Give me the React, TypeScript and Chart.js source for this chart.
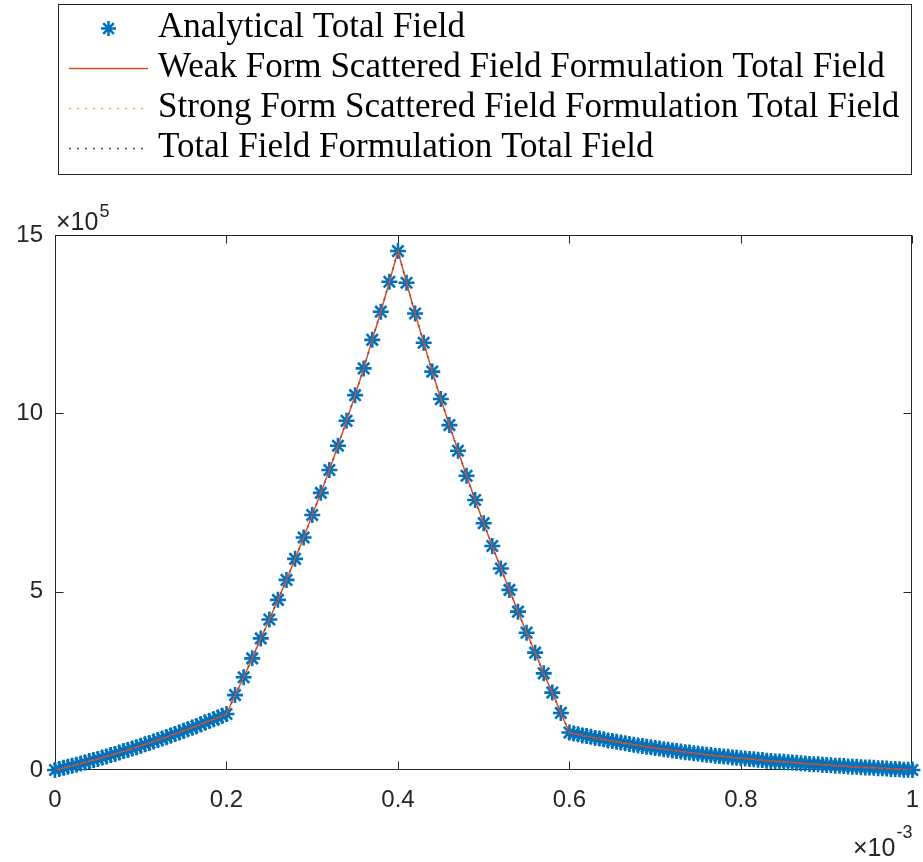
import React, { useEffect, useRef } from "react";
import { Chart, registerables } from "chart.js";

Chart.register(...registerables);

// x positions in units of 1e-3, field values in units of 1e5
const xLeft = [
  0, 0.005, 0.01, 0.015, 0.02, 0.025, 0.03, 0.035, 0.04, 0.045, 0.05, 0.055, 0.06, 0.065, 0.07, 0.075,
  0.08, 0.085, 0.09, 0.095, 0.1, 0.105, 0.11, 0.115, 0.12, 0.125, 0.13, 0.135, 0.14, 0.145, 0.15, 0.155,
  0.16, 0.165, 0.17, 0.175, 0.18, 0.185, 0.19, 0.195, 0.2,
];
const yLeft = [
  0, 0.03, 0.06, 0.09, 0.12, 0.15, 0.18, 0.21, 0.25, 0.28, 0.31, 0.35, 0.38, 0.42, 0.45, 0.49,
  0.53, 0.56, 0.6, 0.64, 0.68, 0.72, 0.76, 0.8, 0.84, 0.88, 0.92, 0.97, 1.01, 1.05, 1.1, 1.14,
  1.19, 1.23, 1.28, 1.33, 1.38, 1.42, 1.47, 1.52, 1.57,
];
const xMid = [
  0.21, 0.22, 0.23, 0.24, 0.25, 0.26, 0.27, 0.28, 0.29, 0.3, 0.31, 0.32, 0.33, 0.34, 0.35, 0.36, 0.37,
  0.38, 0.39, 0.4, 0.41, 0.42, 0.43, 0.44, 0.45, 0.46, 0.47, 0.48, 0.49, 0.5, 0.51, 0.52, 0.53, 0.54,
  0.55, 0.56, 0.57, 0.58, 0.59, 0.6,
];
const yMid = [
  2.1, 2.6, 3.13, 3.69, 4.22, 4.77, 5.33, 5.92, 6.52, 7.15, 7.77, 8.41, 9.09, 9.79, 10.51, 11.26, 12.06,
  12.85, 13.69, 14.55, 13.66, 12.8, 11.98, 11.17, 10.4, 9.67, 8.95, 8.25, 7.57, 6.92, 6.28, 5.65, 5.05,
  4.44, 3.85, 3.29, 2.71, 2.17, 1.6, 1.05,
];
const xRight = [
  0.605, 0.61, 0.615, 0.62, 0.625, 0.63, 0.635, 0.64, 0.645, 0.65, 0.655, 0.66, 0.665, 0.67, 0.675, 0.68,
  0.685, 0.69, 0.695, 0.7, 0.705, 0.71, 0.715, 0.72, 0.725, 0.73, 0.735, 0.74, 0.745, 0.75, 0.755, 0.76,
  0.765, 0.77, 0.775, 0.78, 0.785, 0.79, 0.795, 0.8, 0.805, 0.81, 0.815, 0.82, 0.825, 0.83, 0.835, 0.84,
  0.845, 0.85, 0.855, 0.86, 0.865, 0.87, 0.875, 0.88, 0.885, 0.89, 0.895, 0.9, 0.905, 0.91, 0.915, 0.92,
  0.925, 0.93, 0.935, 0.94, 0.945, 0.95, 0.955, 0.96, 0.965, 0.97, 0.975, 0.98, 0.985, 0.99, 0.995, 1,
];
const yRight = [
  1.02, 1.0, 0.97, 0.95, 0.93, 0.9, 0.88, 0.86, 0.83, 0.81,
  0.79, 0.77, 0.75, 0.73, 0.71, 0.69, 0.67, 0.65, 0.64, 0.62,
  0.6, 0.58, 0.57, 0.55, 0.53, 0.52, 0.5, 0.49, 0.47, 0.46,
  0.44, 0.43, 0.42, 0.4, 0.39, 0.38, 0.37, 0.35, 0.34, 0.33,
  0.32, 0.31, 0.3, 0.29, 0.28, 0.26, 0.25, 0.24, 0.24, 0.23,
  0.22, 0.21, 0.2, 0.19, 0.18, 0.17, 0.16, 0.16, 0.15, 0.14,
  0.13, 0.12, 0.12, 0.11, 0.1, 0.09, 0.09, 0.08, 0.07, 0.07,
  0.06, 0.05, 0.05, 0.04, 0.03, 0.03, 0.02, 0.01, 0.01, 0,
];

const xGrid = [...xLeft, ...xMid, ...xRight];
const analyticalTotal = [...yLeft, ...yMid, ...yRight];
// numerical solutions coincide with the analytical one at plot resolution
const weakFormTotal = analyticalTotal;
const strongFormTotal = analyticalTotal;
const totalFieldTotal = analyticalTotal;

const xTicks = [0, 0.2, 0.4, 0.6, 0.8, 1];
const yTicks = [0, 5, 10, 15];
const xExponent = "-3";
const yExponent = "5";

const seriesLabels = [
  "Analytical Total Field",
  "Weak Form Scattered Field Formulation Total Field",
  "Strong Form Scattered Field Formulation Total Field",
  "Total Field Formulation Total Field",
];

const BLUE = "#0072BD";
const ORANGE = "#D95319";
const YELLOW = "#EDB120";
const PURPLE = "#7E2F8E";
const AXIS = "#262626";
const TICK_FONT = '"Liberation Sans", Arial, Helvetica, sans-serif';
const LEGEND_FONT = '"Liberation Serif", "DejaVu Serif", serif';
const DOTS = [2, 6];

function pts(ys: number[]) {
  return xGrid.map((x, i) => ({ x, y: ys[i] }));
}

function drawStar(ctx: CanvasRenderingContext2D, cx: number, cy: number, r: number) {
  ctx.beginPath();
  for (let k = 0; k < 4; k++) {
    const a = (k * Math.PI) / 4;
    ctx.moveTo(cx - Math.cos(a) * r, cy - Math.sin(a) * r);
    ctx.lineTo(cx + Math.cos(a) * r, cy + Math.sin(a) * r);
  }
  ctx.stroke();
}

const decorPlugin = {
  id: "matlabDecor",
  beforeDatasetsDraw(chart: any) {
    const { ctx, chartArea } = chart;
    const xs = chart.scales.x;
    const ys = chart.scales.y;
    const L = Math.round(chartArea.left) + 0.5;
    const R = Math.round(chartArea.right) - 0.5;
    const T = Math.round(chartArea.top) + 0.5;
    const B = Math.round(chartArea.bottom) - 0.5;
    const tl = 8;
    ctx.save();
    ctx.strokeStyle = AXIS;
    ctx.lineWidth = 1;
    ctx.strokeRect(L, T, R - L, B - T);
    ctx.beginPath();
    xTicks.forEach((v) => {
      const px = Math.round(xs.getPixelForValue(v)) + 0.5;
      ctx.moveTo(px, B);
      ctx.lineTo(px, B - tl);
      ctx.moveTo(px, T);
      ctx.lineTo(px, T + tl);
    });
    yTicks.forEach((v) => {
      const py = Math.round(ys.getPixelForValue(v)) + 0.5;
      ctx.moveTo(L, py);
      ctx.lineTo(L + tl, py);
      ctx.moveTo(R, py);
      ctx.lineTo(R - tl, py);
    });
    ctx.stroke();
    ctx.restore();
  },
  afterDraw(chart: any) {
    const { ctx, chartArea } = chart;
    ctx.save();
    // exponent labels
    ctx.fillStyle = AXIS;
    ctx.textBaseline = "alphabetic";
    ctx.textAlign = "left";
    ctx.font = `25px ${TICK_FONT}`;
    const base = "\u00d710";
    const bw = ctx.measureText(base).width;
    ctx.fillText(base, chartArea.left + 1, chartArea.top - 5);
    ctx.font = `18px ${TICK_FONT}`;
    ctx.fillText(yExponent, chartArea.left + 1 + bw + 1, chartArea.top - 18);
    const ew = ctx.measureText(xExponent).width;
    const xr = chartArea.right;
    ctx.fillText(xExponent, xr - ew, chartArea.bottom + 68);
    ctx.font = `25px ${TICK_FONT}`;
    ctx.fillText(base, xr - ew - 1 - bw, chartArea.bottom + 86);

    // legend
    const boxL = 58.5, boxT = 4.5, boxR = 911.5, boxB = 174.5;
    ctx.fillStyle = "#ffffff";
    ctx.fillRect(boxL, boxT, boxR - boxL, boxB - boxT);
    ctx.strokeStyle = AXIS;
    ctx.lineWidth = 1;
    ctx.strokeRect(boxL, boxT, boxR - boxL, boxB - boxT);

    ctx.font = `100px ${LEGEND_FONT}`;
    const w = ctx.measureText(seriesLabels[1]).width;
    const fs = (100 * 727) / w;
    ctx.font = `${fs}px ${LEGEND_FONT}`;
    ctx.fillStyle = "#000000";
    const rowY = [28.5, 68.5, 108.5, 148.5];
    seriesLabels.forEach((label, i) => {
      ctx.fillText(label, 158, rowY[i] + 8.5);
    });
    // samples
    ctx.strokeStyle = BLUE;
    ctx.lineWidth = 2.5;
    drawStar(ctx, 108.5, rowY[0], 7.5);
    const drawSample = (y: number, color: string, dash: number[]) => {
      ctx.strokeStyle = color;
      ctx.lineWidth = 1.5;
      ctx.setLineDash(dash);
      ctx.beginPath();
      ctx.moveTo(69, y);
      ctx.lineTo(148, y);
      ctx.stroke();
      ctx.setLineDash([]);
    };
    drawSample(rowY[1], ORANGE, []);
    drawSample(rowY[2], YELLOW, DOTS);
    drawSample(rowY[3], PURPLE, DOTS);
    ctx.restore();
  },
};

export default function App() {
  const ref = useRef<HTMLCanvasElement | null>(null);

  useEffect(() => {
    if (!ref.current) return;
    const chart = new Chart(ref.current, {
      type: "scatter",
      data: {
        datasets: [
          {
            label: seriesLabels[0],
            data: pts(analyticalTotal),
            showLine: false,
            pointStyle: "star",
            pointRadius: 8,
            pointBorderWidth: 2.6,
            borderColor: BLUE,
            backgroundColor: BLUE,
            clip: false,
            order: 3,
          },
          {
            label: seriesLabels[1],
            data: pts(weakFormTotal),
            showLine: true,
            pointRadius: 0,
            borderColor: ORANGE,
            borderWidth: 1.5,
            order: 2,
          },
          {
            label: seriesLabels[2],
            data: pts(strongFormTotal),
            showLine: true,
            pointRadius: 0,
            borderColor: YELLOW,
            borderWidth: 1.5,
            borderDash: DOTS,
            order: 1,
          },
          {
            label: seriesLabels[3],
            data: pts(totalFieldTotal),
            showLine: true,
            pointRadius: 0,
            borderColor: PURPLE,
            borderWidth: 1.5,
            borderDash: DOTS,
            order: 0,
          },
        ],
      } as any,
      options: {
        animation: false,
        responsive: false,
        devicePixelRatio: 1,
        layout: { padding: { left: 0, top: 235, right: 5, bottom: 0 } },
        plugins: { legend: { display: false }, tooltip: { enabled: false } },
        events: [],
        scales: {
          x: {
            type: "linear",
            min: 0,
            max: 1,
            afterBuildTicks: (s: any) => {
              s.ticks = xTicks.map((v) => ({ value: v }));
            },
            afterFit: (s: any) => {
              s.height = 92;
              s.paddingLeft = 0;
              s.paddingRight = 0;
            },
            grid: { display: false, drawTicks: false },
            border: { display: false },
            ticks: {
              padding: 16,
              color: AXIS,
              font: { size: 24, family: TICK_FONT },
              maxRotation: 0,
              autoSkip: false,
              callback: (v: any) => String(Number(Number(v).toFixed(1))),
            },
          },
          y: {
            type: "linear",
            min: 0,
            max: 15,
            afterBuildTicks: (s: any) => {
              s.ticks = yTicks.map((v) => ({ value: v }));
            },
            afterFit: (s: any) => {
              s.width = 55;
              s.paddingTop = 0;
              s.paddingBottom = 0;
            },
            grid: { display: false, drawTicks: false },
            border: { display: false },
            ticks: {
              padding: 12,
              color: AXIS,
              font: { size: 24, family: TICK_FONT },
              callback: (v: any) => String(v),
            },
          },
        },
      } as any,
      plugins: [decorPlugin as any],
    });
    return () => chart.destroy();
  }, []);

  return (
    <div style={{ position: "absolute", left: 0, top: 0, width: 923, height: 862, background: "#fff" }}>
      <canvas ref={ref} width={923} height={862} style={{ display: "block", width: 923, height: 862 }} />
    </div>
  );
}
